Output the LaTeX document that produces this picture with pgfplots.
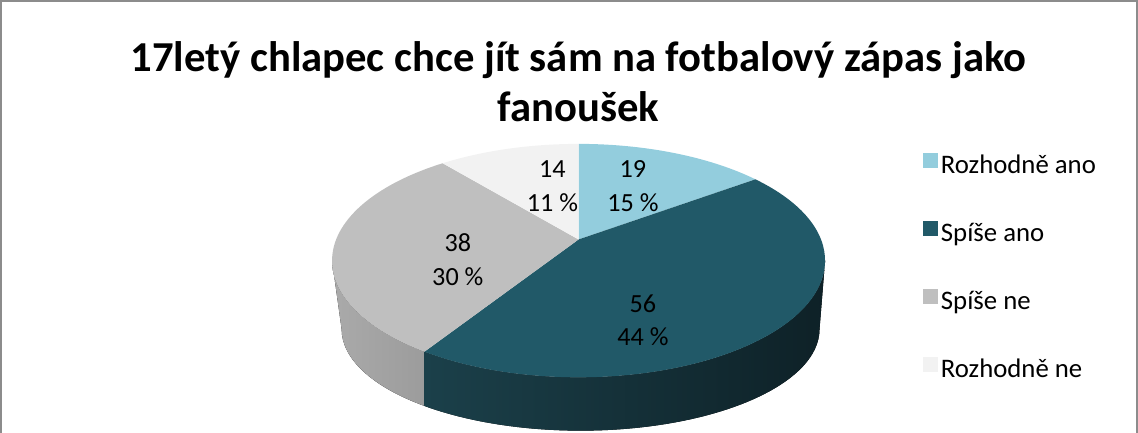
\documentclass[border=0pt]{standalone}
\usepackage{fontspec}
\setmainfont{Carlito}
\usepackage{pgfplots}
\pgfplotsset{compat=1.18}

\definecolor{cA}{HTML}{93CDDD}
\definecolor{cB}{HTML}{215968}
\definecolor{cC}{HTML}{BFBFBF}
\definecolor{cD}{HTML}{F2F2F2}
\definecolor{sideBl}{HTML}{1B404A}
\definecolor{sideBr}{HTML}{0E2127}
\definecolor{sideCl}{HTML}{AAAAAA}
\definecolor{sideCr}{HTML}{9C9C9C}

% values of the four answers
\newcommand\vA{19}
\newcommand\vB{56}
\newcommand\vC{38}
\newcommand\vD{14}

% angle t on the pie (circle) -> parameter angle on the drawn (perspective) ellipse
\newcommand\phiof[2]{%
  \pgfmathsetmacro\pd{1+0.181*sin(#1)}%
  \pgfmathsetmacro\pu{241*cos(#1)/\pd}%
  \pgfmathsetmacro\pv{112.2*sin(#1)/\pd+21}%
  \pgfmathsetmacro\pp{atan2(\pv/116,\pu/245)}%
  \pgfmathsetmacro#2{\pp+360*round((#1-\pp)/360)}%
}

\begin{document}
\begin{tikzpicture}
\pgfmathsetmacro\tot{\vA+\vB+\vC+\vD}
\pgfmathsetmacro\tA{90}
\pgfmathsetmacro\tB{\tA-360*(\vA/\tot)}
\pgfmathsetmacro\tC{\tB-360*(\vB/\tot)}
\pgfmathsetmacro\tD{\tC-360*(\vC/\tot)}
\pgfmathsetmacro\tE{\tD-360*(\vD/\tot)}
\phiof{\tA}\pA \phiof{\tB}\pB \phiof{\tC}\pC \phiof{\tD}\pD \phiof{\tE}\pE
\pgfmathtruncatemacro\qA{round(100*(\vA/\tot))}
\pgfmathtruncatemacro\qB{round(100*(\vB/\tot))}
\pgfmathtruncatemacro\qC{round(100*(\vC/\tot))}
\pgfmathtruncatemacro\qD{round(100*(\vD/\tot))}
\pgfmathsetmacro\pCs{\pC+360}
% same place on the bottom rim (vertical edge)
\pgfmathsetmacro\pCb{360-acos((245*cos(\pCs)-2)/237.5)}
\begin{axis}[
  scale only axis, width=569pt, height=219.5pt,
  xmin=0, xmax=1138, ymin=0, ymax=439,
  hide axis, clip=true,
  legend cell align=left,
  legend style={draw=none, fill=none, inner sep=0pt,
    at={(0.8084,0.6333)}, anchor=north west,
    font=\fontsize{13.3}{15}\selectfont, row sep=20.6pt,
    nodes={inner sep=0pt, text height=9pt, text depth=3pt},
    /tikz/every odd column/.append style={column sep=1.5pt}},
]
% chart area border
\draw[black!45, line width=1pt] (axis cs:4,0) -- (axis cs:4,429) -- (axis cs:1133,429) -- (axis cs:1133,0);

% side walls (top rim: centre 578,171 radii 245x116; bottom rim: centre 580,103 radii 237.5x101)
\fill[left color=sideCl, right color=sideCr]
  (axis cs:333,171) arc[start angle=180, end angle=\pCs, x radius=122.5pt, y radius=58pt]
  -- (axis cs:{580+237.5*cos(\pCb)},{103+101*sin(\pCb)})
  arc[start angle=\pCb, end angle=180, x radius=118.75pt, y radius=50.5pt] -- cycle;
\fill[left color=sideBl, right color=sideBr]
  (axis cs:{578+245*cos(\pCs)},{171+116*sin(\pCs)})
  arc[start angle=\pCs, end angle=360, x radius=122.5pt, y radius=58pt]
  -- (axis cs:817.5,103)
  arc[start angle=360, end angle=\pCb, x radius=118.75pt, y radius=50.5pt] -- cycle;

% top faces
\fill[cA] (axis cs:578,192) -- (axis cs:{578+245*cos(\pA)},{171+116*sin(\pA)})
  arc[start angle=\pA, end angle=\pB, x radius=122.5pt, y radius=58pt] -- cycle;
\fill[cB] (axis cs:578,192) -- (axis cs:{578+245*cos(\pB)},{171+116*sin(\pB)})
  arc[start angle=\pB, end angle=\pC, x radius=122.5pt, y radius=58pt] -- cycle;
\fill[cC] (axis cs:578,192) -- (axis cs:{578+245*cos(\pC)},{171+116*sin(\pC)})
  arc[start angle=\pC, end angle=\pD, x radius=122.5pt, y radius=58pt] -- cycle;
\fill[cD] (axis cs:578,192) -- (axis cs:{578+245*cos(\pD)},{171+116*sin(\pD)})
  arc[start angle=\pD, end angle=\pE, x radius=122.5pt, y radius=58pt] -- cycle;

% data labels
\begin{scope}[every node/.style={align=center, font=\fontsize{13}{16.5}\selectfont}]
\node at (axis cs:632,245) {\vA\\\qA\ \%};
\node at (axis cs:642,112) {\vB\\\qB\ \%};
\node at (axis cs:458,172) {\vC\\\qC\ \%};
\node at (axis cs:552,245) {\vD\\\qD\ \%};
\end{scope}

% title
\node[align=center, font=\fontsize{21.2}{25}\selectfont\bfseries] at (axis cs:578,349)
  {17letý chlapec chce jít sám na fotbalový zápas jako\\fanoušek};

\addlegendimage{legend image code/.code={\fill[cA] (0pt,0pt) rectangle (7pt,7pt);}}
\addlegendentry{Rozhodně ano}
\addlegendimage{legend image code/.code={\fill[cB] (0pt,0pt) rectangle (7pt,7pt);}}
\addlegendentry{Spíše ano}
\addlegendimage{legend image code/.code={\fill[cC] (0pt,0pt) rectangle (7pt,7pt);}}
\addlegendentry{Spíše ne}
\addlegendimage{legend image code/.code={\fill[cD] (0pt,0pt) rectangle (7pt,7pt);}}
\addlegendentry{Rozhodně ne}
\end{axis}
\end{tikzpicture}
\end{document}
